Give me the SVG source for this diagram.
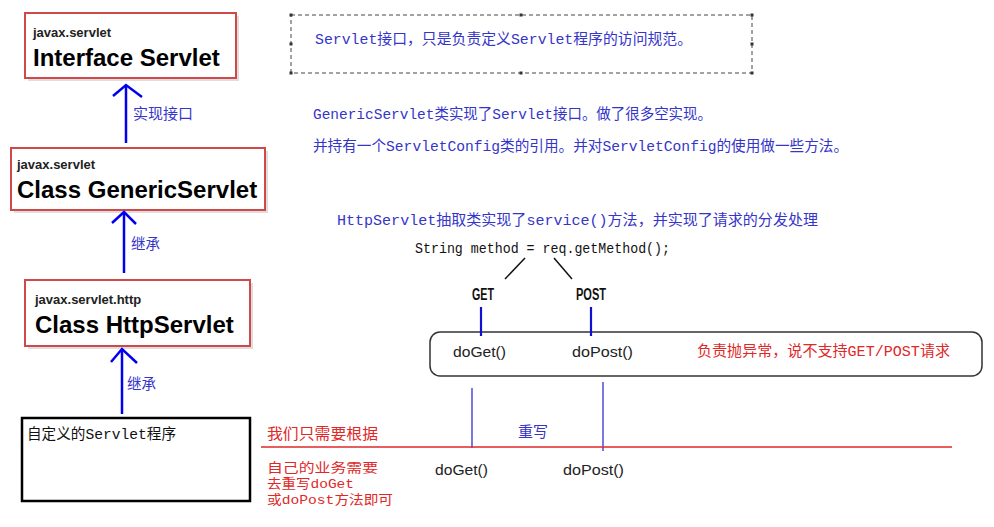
<svg xmlns="http://www.w3.org/2000/svg" width="994" height="527" viewBox="0 0 994 527">
<style>
.cls{fill:#fff;stroke:#d04848;stroke-width:2}
.shadow{fill:#c8c8c8;opacity:0.6}
.pkg{font-family:"Liberation Sans",Arial,sans-serif;font-weight:bold;font-size:13px;fill:#222}
.name{font-family:"Liberation Sans",Arial,sans-serif;font-weight:bold;font-size:24px;fill:#000}
.cn{font-family:"Liberation Mono","Noto Sans CJK SC",monospace;font-size:15px}
.sm{font-size:13px}
.blue{fill:#3535c8}
.red{fill:#e02828}
.blk{fill:#111}
.code{font-family:"Liberation Sans","Noto Sans CJK SC",sans-serif;font-size:15px;fill:#222}
.kw{font-family:"Liberation Sans",Arial,sans-serif;font-weight:bold;font-size:16px;fill:#111}
.arrow{stroke:#0000ee;stroke-width:2.5;fill:none}
.thin{stroke:#3030d0;stroke-width:1.3;fill:none}
.dot{fill:#333}
</style>

<g id="node-interface-servlet">
  <rect class="shadow" x="28" y="16" width="211" height="65"/>
  <rect class="cls" x="25" y="13" width="211" height="65"/>
  <text class="pkg" x="33" y="36.5">javax.servlet</text>
  <text class="name" x="33" y="65.5">Interface Servlet</text>
</g>

<g id="node-generic-servlet">
  <rect class="shadow" x="14" y="151" width="254" height="62"/>
  <rect class="cls" x="11" y="148" width="254" height="62"/>
  <text class="pkg" x="17" y="168.5">javax.servlet</text>
  <text class="name" x="17" y="197.5">Class GenericServlet</text>
</g>

<g id="node-http-servlet">
  <rect class="shadow" x="28" y="283" width="225" height="66"/>
  <rect class="cls" x="25" y="280" width="225" height="66"/>
  <text class="pkg" x="35" y="303.5">javax.servlet.http</text>
  <text class="name" x="35" y="332.5">Class HttpServlet</text>
</g>

<g id="node-custom-servlet">
  <rect x="22" y="418" width="228" height="83" fill="#fff" stroke="#000" stroke-width="2.5"/>
  <text class="cn blk" x="27" y="438.5" textLength="149" lengthAdjust="spacingAndGlyphs">自定义的Servlet程序</text>
</g>

<g id="node-servlet-note">
  <rect x="291" y="15" width="461" height="58" fill="none" stroke="#444" stroke-width="1" stroke-dasharray="4,3"/>
  <rect class="dot" x="289.5" y="13.5" width="3" height="3"/>
  <rect class="dot" x="519.5" y="13.5" width="3" height="3"/>
  <rect class="dot" x="750.5" y="13.5" width="3" height="3"/>
  <rect class="dot" x="289.5" y="42.5" width="3" height="3"/>
  <rect class="dot" x="750.5" y="42.5" width="3" height="3"/>
  <rect class="dot" x="289.5" y="71.5" width="3" height="3"/>
  <rect class="dot" x="519.5" y="71.5" width="3" height="3"/>
  <rect class="dot" x="750.5" y="71.5" width="3" height="3"/>
  <text class="cn blue" x="315" y="44" textLength="377" lengthAdjust="spacingAndGlyphs">Servlet接口，只是负责定义Servlet程序的访问规范。</text>
</g>

<g id="node-generic-note">
  <text class="cn blue" x="313" y="118.5" textLength="399" lengthAdjust="spacingAndGlyphs">GenericServlet类实现了Servlet接口。做了很多空实现。</text>
  <text class="cn blue" x="313" y="150.5" textLength="535" lengthAdjust="spacingAndGlyphs">并持有一个ServletConfig类的引用。并对ServletConfig的使用做一些方法。</text>
</g>

<g id="node-http-note">
  <text class="cn blue" x="337" y="224.5" textLength="481" lengthAdjust="spacingAndGlyphs">HttpServlet抽取类实现了service()方法，并实现了请求的分发处理</text>
  <text class="cn blk" x="415" y="252.5" textLength="255" lengthAdjust="spacingAndGlyphs">String method = req.getMethod();</text>
  <text class="kw" x="472" y="300" textLength="22" lengthAdjust="spacingAndGlyphs">GET</text>
  <text class="kw" x="576" y="300" textLength="30" lengthAdjust="spacingAndGlyphs">POST</text>
</g>

<g id="node-dispatch-box">
  <rect x="430" y="332" width="552" height="44" rx="10" ry="10" fill="#fff" stroke="#333" stroke-width="1.5"/>
  <text class="code" x="453" y="357" textLength="53" lengthAdjust="spacingAndGlyphs">doGet()</text>
  <text class="code" x="572" y="357" textLength="61" lengthAdjust="spacingAndGlyphs">doPost()</text>
  <text class="cn red" x="697" y="355.5" textLength="253" lengthAdjust="spacingAndGlyphs">负责抛异常，说不支持GET/POST请求</text>
</g>

<g id="node-override-note">
  <text class="cn red" x="267" y="438.5" textLength="111" lengthAdjust="spacingAndGlyphs">我们只需要根据</text>
  <text class="cn sm red" x="267" y="472" textLength="111" lengthAdjust="spacingAndGlyphs">自己的业务需要</text>
  <text class="cn sm red" x="267" y="488" textLength="87" lengthAdjust="spacingAndGlyphs">去重写doGet</text>
  <text class="cn sm red" x="267" y="504" textLength="126" lengthAdjust="spacingAndGlyphs">或doPost方法即可</text>
  <text class="cn blue" x="518" y="436.5" textLength="30" lengthAdjust="spacingAndGlyphs">重写</text>
  <text class="code" x="435" y="475" textLength="53" lengthAdjust="spacingAndGlyphs">doGet()</text>
  <text class="code" x="563" y="475" textLength="61" lengthAdjust="spacingAndGlyphs">doPost()</text>
</g>

<g id="connectors">
  <line class="arrow" x1="126" y1="143" x2="126" y2="86"/>
  <polyline class="arrow" points="113,96 126,85 142,97"/>
  <text class="cn blue" x="133" y="118.5" textLength="60" lengthAdjust="spacingAndGlyphs">实现接口</text>

  <line class="arrow" x1="124" y1="273" x2="124" y2="213"/>
  <polyline class="arrow" points="112,223 124,212 136,224"/>
  <text class="cn blue" x="131" y="248.5" textLength="29" lengthAdjust="spacingAndGlyphs">继承</text>

  <line class="arrow" x1="122" y1="414" x2="122" y2="350"/>
  <polyline class="arrow" points="111,362 122,349 137,363"/>
  <text class="cn blue" x="127" y="388.5" textLength="29" lengthAdjust="spacingAndGlyphs">继承</text>

  <line x1="525" y1="258" x2="505" y2="279" stroke="#111" stroke-width="1.5"/>
  <line x1="554" y1="258" x2="572" y2="279" stroke="#111" stroke-width="1.5"/>

  <line x1="481" y1="307" x2="481" y2="336" stroke="#1010d0" stroke-width="2.2"/>
  <line x1="591" y1="307" x2="591" y2="336" stroke="#1010d0" stroke-width="2.2"/>

  <line class="thin" x1="472" y1="388" x2="472" y2="448"/>
  <line class="thin" x1="603" y1="382" x2="603" y2="451"/>

  <line x1="261" y1="447" x2="952" y2="447" stroke="#e02828" stroke-width="1.3"/>
</g>
</svg>
